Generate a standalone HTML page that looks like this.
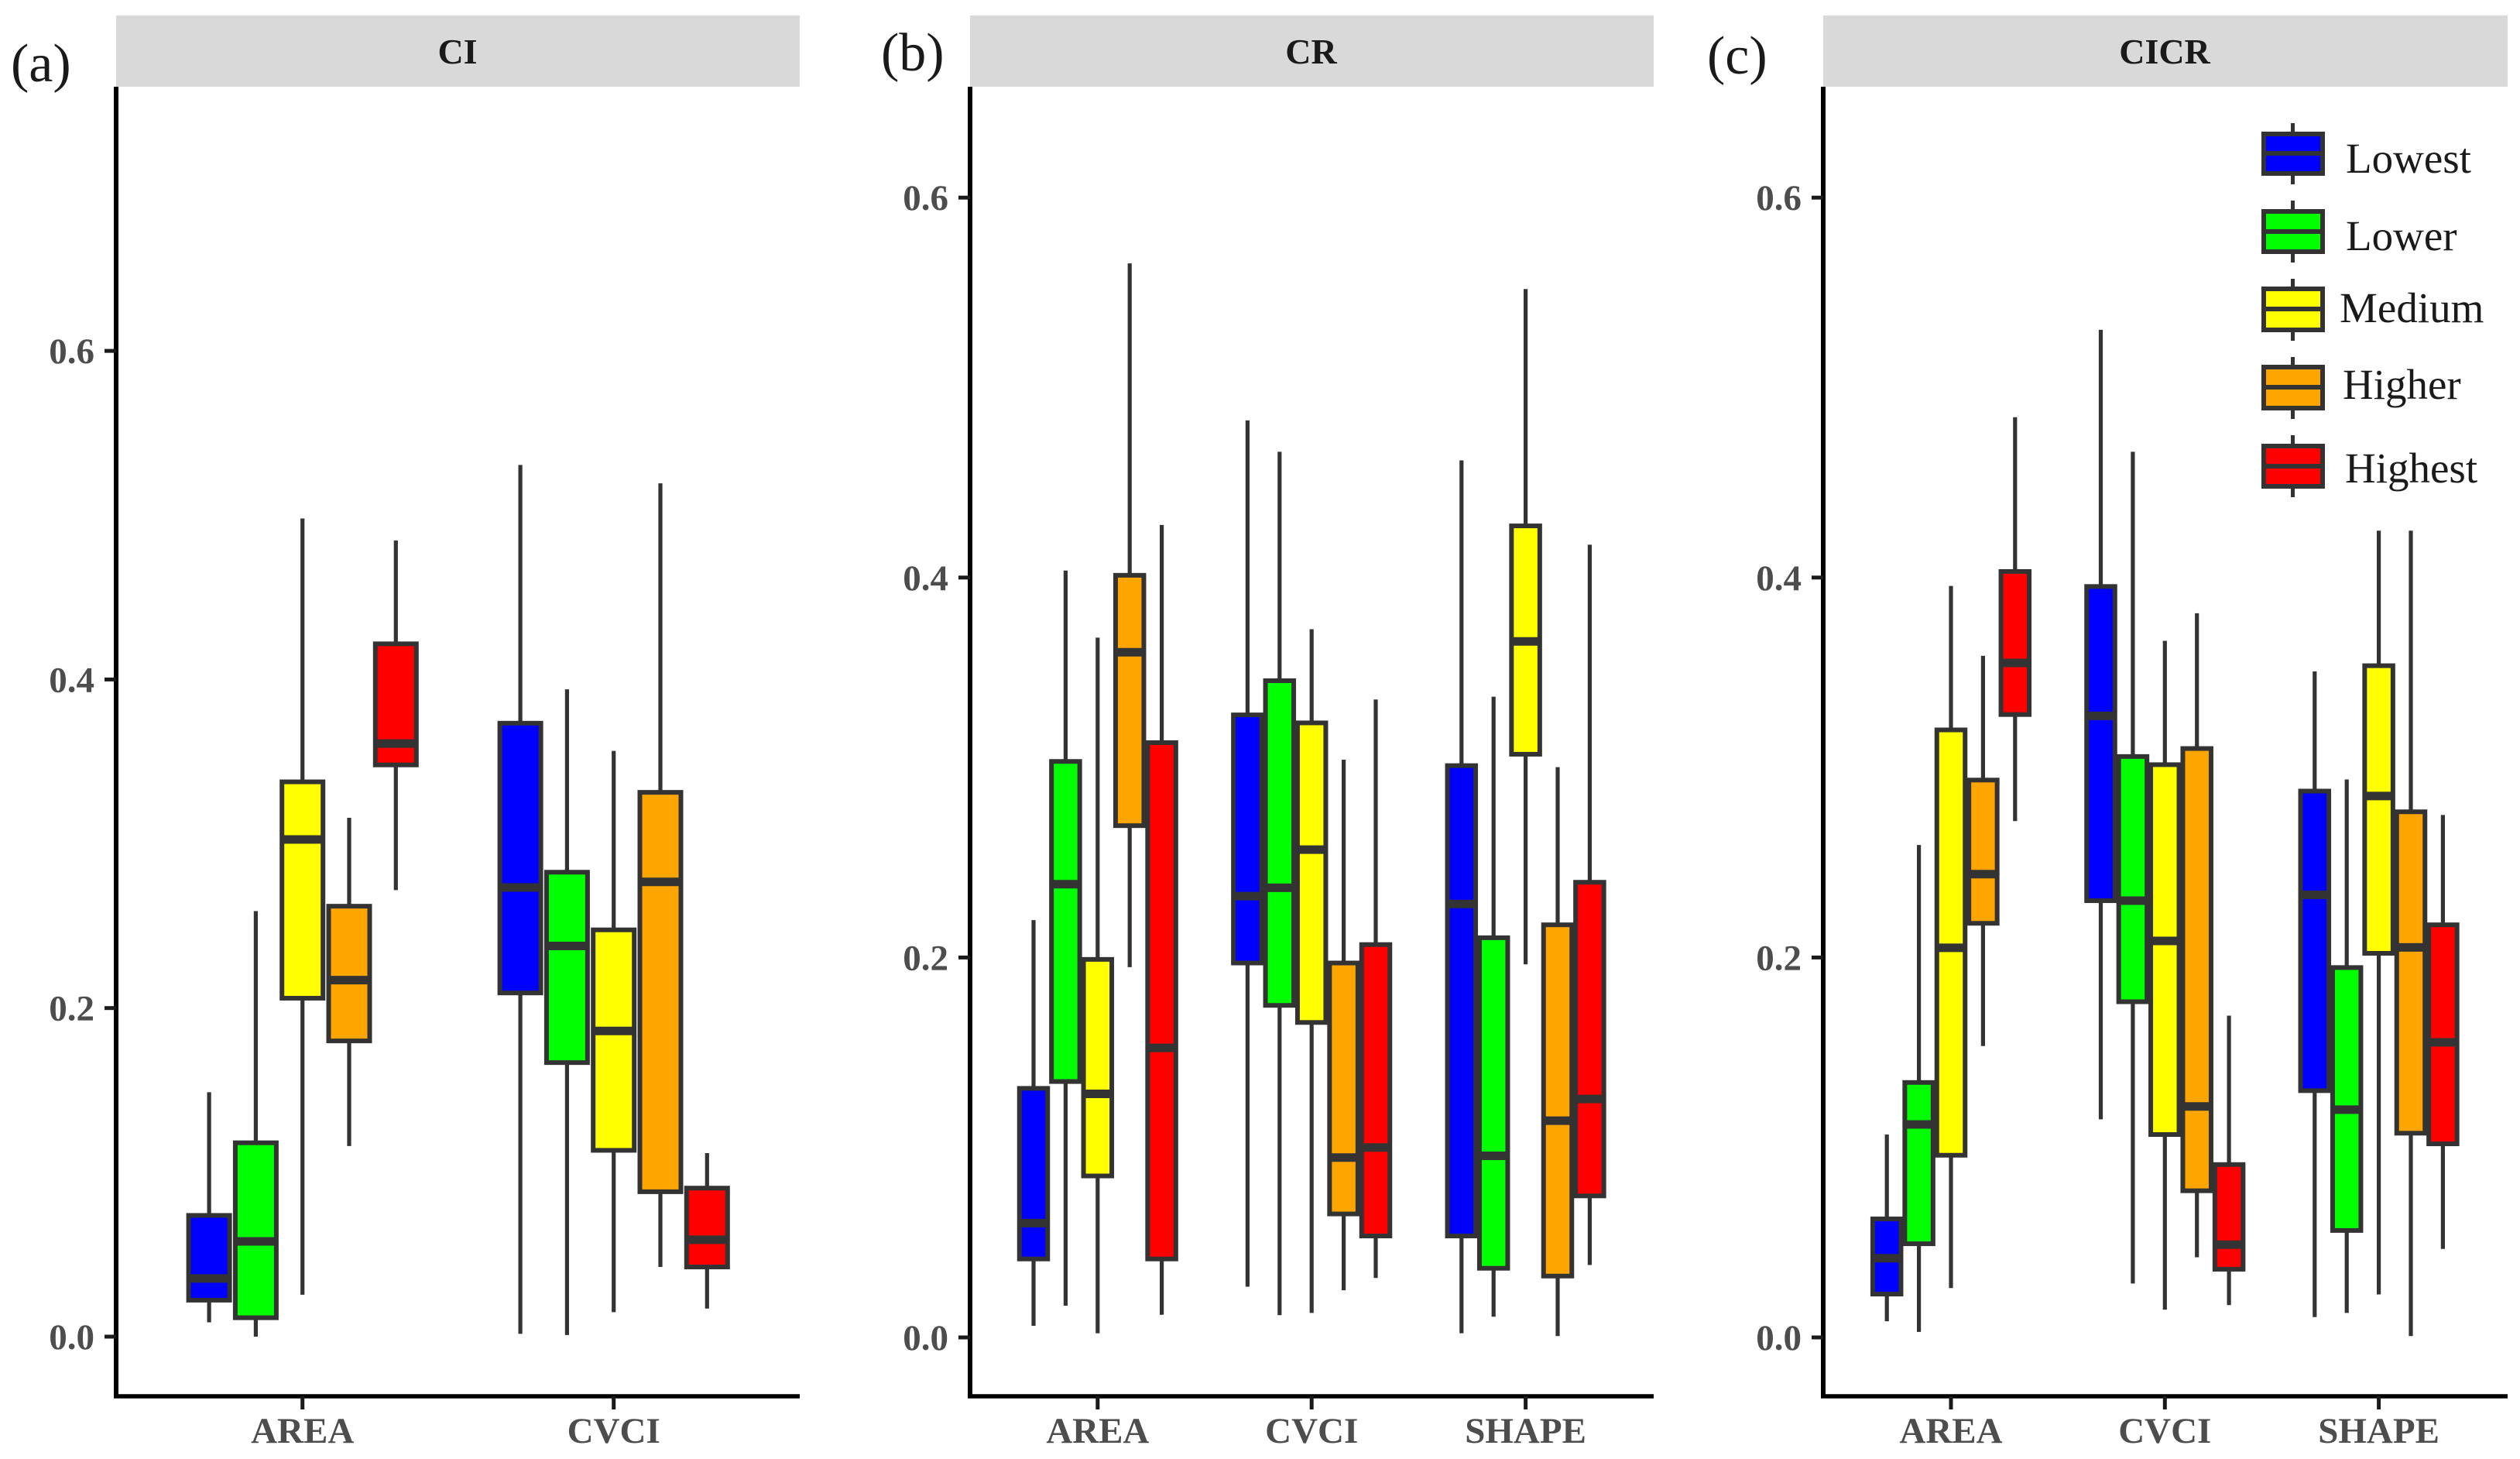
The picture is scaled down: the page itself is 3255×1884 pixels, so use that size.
<!DOCTYPE html>
<html lang="en">
<head>
<meta charset="utf-8">
<title>Box plots of CI, CR and CICR by level</title>
<style>
html,body{margin:0;padding:0;background:#fff;}
svg{display:block;}
text{font-family:"Liberation Serif","Times New Roman",serif;}
.tick{font-weight:bold;font-size:47px;fill:#4d4d4d;}
.strip{font-weight:bold;font-size:46px;fill:#1a1a1a;text-anchor:middle;}
.tag{font-size:70px;fill:#1a1a1a;}
.leg{font-size:55px;fill:#1a1a1a;}
</style>
</head>
<body>
<svg id="chart" xmlns="http://www.w3.org/2000/svg" width="3255" height="1884" viewBox="0 0 3255 1884">
  <rect x="0" y="0" width="3255" height="1884" fill="#ffffff"/>

  <text class="tag" x="14" y="105">(a)</text>
  <text class="tag" x="1138" y="91">(b)</text>
  <text class="tag" x="2205" y="95">(c)</text>

  <g id="panels"></g>

  <g stroke="#333333">
    <g>
      <line x1="2961.5" x2="2961.5" y1="159" y2="238" stroke-width="5"/>
      <rect x="2924" y="173" width="76" height="51" fill="#0000ff" stroke-width="6"/>
      <line x1="2922" x2="3002" y1="198" y2="198" stroke-width="6"/>
      <text class="leg" stroke="none" x="3030" y="223">Lowest</text>
    </g>
    <g>
      <line x1="2961.5" x2="2961.5" y1="259" y2="339" stroke-width="5"/>
      <rect x="2924" y="273" width="76" height="52" fill="#00ff00" stroke-width="6"/>
      <line x1="2922" x2="3002" y1="299" y2="299" stroke-width="6"/>
      <text class="leg" stroke="none" x="3030" y="323">Lower</text>
    </g>
    <g>
      <line x1="2961.5" x2="2961.5" y1="360" y2="440" stroke-width="5"/>
      <rect x="2924" y="373" width="76" height="53" fill="#ffff00" stroke-width="6"/>
      <line x1="2922" x2="3002" y1="399" y2="399" stroke-width="6"/>
      <text class="leg" stroke="none" x="3022" y="416">Medium</text>
    </g>
    <g>
      <line x1="2961.5" x2="2961.5" y1="461" y2="541" stroke-width="5"/>
      <rect x="2924" y="474" width="76" height="53" fill="#ffa500" stroke-width="6"/>
      <line x1="2922" x2="3002" y1="500" y2="500" stroke-width="6"/>
      <text class="leg" stroke="none" x="3026" y="515">Higher</text>
    </g>
    <g>
      <line x1="2961.5" x2="2961.5" y1="562" y2="642" stroke-width="5"/>
      <rect x="2924" y="576" width="76" height="52" fill="#ff0000" stroke-width="6"/>
      <line x1="2922" x2="3002" y1="602" y2="602" stroke-width="6"/>
      <text class="leg" stroke="none" x="3029" y="623">Highest</text>
    </g>
  </g>
</svg>

<script>
/* Shared tick labels and category names */
var yTicks = [0, 0.2, 0.4, 0.6];
var levels = ['Lowest', 'Lower', 'Medium', 'Higher', 'Highest'];
var fills = ['#0000ff', '#00ff00', '#ffff00', '#ffa500', '#ff0000'];
var ciCategories = ['AREA', 'CVCI'];
var crCategories = ['AREA', 'CVCI', 'SHAPE'];
var cicrCategories = ['AREA', 'CVCI', 'SHAPE'];

/* Panel (a) CI: one row per category, one value per level */
var ciLow = [[0.0087, 0, 0.0255, 0.116, 0.2718], [0.0017, 0.001, 0.0149, 0.0424, 0.0171]];
var ciQ1 = [[0.0222, 0.0115, 0.206, 0.18, 0.348], [0.2092, 0.1668, 0.1134, 0.0882, 0.0424]];
var ciMedian = [[0.0354, 0.058, 0.3026, 0.217, 0.361], [0.2734, 0.2378, 0.1861, 0.2768, 0.059]];
var ciQ3 = [[0.0738, 0.118, 0.3377, 0.262, 0.4217], [0.3734, 0.2827, 0.2476, 0.3313, 0.0904]];
var ciHigh = [[0.1488, 0.259, 0.498, 0.3158, 0.4846], [0.5306, 0.394, 0.3565, 0.5194, 0.1117]];

/* Panel (b) CR */
var crLow = [[0.0061, 0.0167, 0.0022, 0.1949, 0.0119], [0.0267, 0.0117, 0.0129, 0.0248, 0.0313], [0.0022, 0.0109, 0.1964, 0.0007, 0.0381]];
var crQ1 = [[0.0413, 0.1347, 0.085, 0.2694, 0.0413], [0.1971, 0.1748, 0.1658, 0.065, 0.0534], [0.0534, 0.0364, 0.307, 0.0323, 0.0745]];
var crMedian = [[0.0602, 0.2386, 0.1282, 0.3607, 0.1524], [0.2323, 0.2367, 0.2568, 0.0947, 0.1], [0.2282, 0.0956, 0.3664, 0.1141, 0.1255]];
var crQ3 = [[0.1311, 0.3032, 0.199, 0.4012, 0.3131], [0.3277, 0.3457, 0.3235, 0.1971, 0.2068], [0.301, 0.2104, 0.4272, 0.2172, 0.2396]];
var crHigh = [[0.2197, 0.4037, 0.3684, 0.5654, 0.4277], [0.4827, 0.4662, 0.3728, 0.3041, 0.3358], [0.4617, 0.3373, 0.5519, 0.3002, 0.4173]];

/* Panel (c) CICR */
var cicrLow = [[0.0085, 0.0029, 0.026, 0.1534, 0.2718], [0.1148, 0.0284, 0.0146, 0.0422, 0.017], [0.0107, 0.0129, 0.0226, 0.0007, 0.0466]];
var cicrQ1 = [[0.0228, 0.0493, 0.0959, 0.218, 0.3279], [0.2299, 0.1767, 0.1068, 0.0772, 0.0359], [0.1299, 0.0563, 0.2022, 0.1075, 0.1019]];
var cicrMedian = [[0.0417, 0.1121, 0.2051, 0.2439, 0.3551], [0.3272, 0.2299, 0.2087, 0.1216, 0.0488], [0.233, 0.1199, 0.285, 0.2053, 0.1553]];
var cicrQ3 = [[0.0624, 0.1342, 0.3198, 0.2934, 0.4032], [0.3953, 0.3058, 0.3015, 0.31, 0.091], [0.2876, 0.1947, 0.3536, 0.2767, 0.2172]];
var cicrHigh = [[0.1068, 0.2592, 0.3956, 0.3588, 0.4844], [0.5304, 0.4662, 0.3667, 0.3812, 0.1694], [0.3506, 0.2937, 0.4247, 0.4247, 0.275]];

var NS = 'http://www.w3.org/2000/svg';
var INK = '#333333';
var root = document.getElementById('panels');

function make(parent, tag, attrs, text) {
  var el = document.createElementNS(NS, tag);
  for (var k in attrs) el.setAttribute(k, attrs[k]);
  if (text !== undefined) el.textContent = text;
  parent.appendChild(el);
  return el;
}

function slug(s) {
  return String(s).toLowerCase().replace(/[^a-z0-9]+/g, '-');
}

function drawPanel(opts) {
  var yOf = function (v) { return opts.zeroY - v * opts.pxPerUnit; };
  var xOf = function (catIdx, levelIdx) {
    return opts.firstCatX + catIdx * opts.catStep + (levelIdx - 2) * opts.dodge;
  };
  var axisTop = 112, axisBottom = 1803;

  var panel = make(root, 'g', {});
  
  

  /* strip */
  var strip = make(panel, 'rect', { x: opts.left, y: 20, width: opts.right - opts.left, height: 92, fill: '#d9d9d9' });
  
  
  var title = make(panel, 'text', { 'class': 'strip', x: opts.titleX, y: 82 }, opts.title);
  
  

  /* boxes */
  opts.categories.forEach(function (cat, c) {
    levels.forEach(function (lev, l) {
      var cx = xOf(c, l);
      var g = make(panel, 'g', {});
      
      
      make(g, 'line', { x1: cx, x2: cx, y1: yOf(opts.high[c][l]), y2: yOf(opts.q3[c][l]), stroke: INK, 'stroke-width': 5.2 });
      make(g, 'line', { x1: cx, x2: cx, y1: yOf(opts.q1[c][l]), y2: yOf(opts.low[c][l]), stroke: INK, 'stroke-width': 5.2 });
      make(g, 'rect', {
        x: cx - opts.boxW / 2, y: yOf(opts.q3[c][l]), width: opts.boxW,
        height: yOf(opts.q1[c][l]) - yOf(opts.q3[c][l]),
        fill: fills[l], stroke: INK, 'stroke-width': 6
      });
      make(g, 'line', {
        x1: cx - opts.boxW / 2, x2: cx + opts.boxW / 2,
        y1: yOf(opts.median[c][l]), y2: yOf(opts.median[c][l]), stroke: INK, 'stroke-width': 11
      });
    });
  });

  /* y axis */
  var yAxis = make(panel, 'line', { x1: opts.left, x2: opts.left, y1: axisTop, y2: axisBottom + 2.5, stroke: '#000000', 'stroke-width': 6 });
  
  
  yTicks.forEach(function (t) {
    var tick = make(panel, 'line', { x1: opts.left - 15, x2: opts.left, y1: yOf(t), y2: yOf(t), stroke: '#1a1a1a', 'stroke-width': 5 });
    
    
    var label = make(panel, 'text', { 'class': 'tick', x: opts.left - 28, y: yOf(t) + 16, 'text-anchor': 'end' }, t.toFixed(1));
    
    
  });

  /* x axis */
  var xAxis = make(panel, 'line', { x1: opts.left - 3, x2: opts.right, y1: axisBottom, y2: axisBottom, stroke: '#000000', 'stroke-width': 5.5 });
  
  
  opts.categories.forEach(function (cat, c) {
    var x = xOf(c, 2);
    var tick = make(panel, 'line', { x1: x, x2: x, y1: axisBottom, y2: axisBottom + 17, stroke: '#1a1a1a', 'stroke-width': 5 });
    
    
    var label = make(panel, 'text', { 'class': 'tick', x: x, y: 1863, 'text-anchor': 'middle' }, cat);
    
    
  });
}

drawPanel({
  id: 'ci', title: 'CI', titleX: 591, left: 150, right: 1033,
  zeroY: 1726, pxPerUnit: 2121.5, firstCatX: 390.7, catStep: 402, dodge: 60.3, boxW: 53,
  categories: ciCategories, low: ciLow, q1: ciQ1, median: ciMedian, q3: ciQ3, high: ciHigh
});
drawPanel({
  id: 'cr', title: 'CR', titleX: 1693.5, left: 1253, right: 2136,
  zeroY: 1727, pxPerUnit: 2453, firstCatX: 1417.8, catStep: 276.4, dodge: 41.4, boxW: 36.5,
  categories: crCategories, low: crLow, q1: crQ1, median: crMedian, q3: crQ3, high: crHigh
});
drawPanel({
  id: 'cicr', title: 'CICR', titleX: 2796, left: 2355, right: 3239,
  zeroY: 1727, pxPerUnit: 2453, firstCatX: 2520, catStep: 276.3, dodge: 41.4, boxW: 36.5,
  categories: cicrCategories, low: cicrLow, q1: cicrQ1, median: cicrMedian, q3: cicrQ3, high: cicrHigh
});
</script>
</body>
</html>
